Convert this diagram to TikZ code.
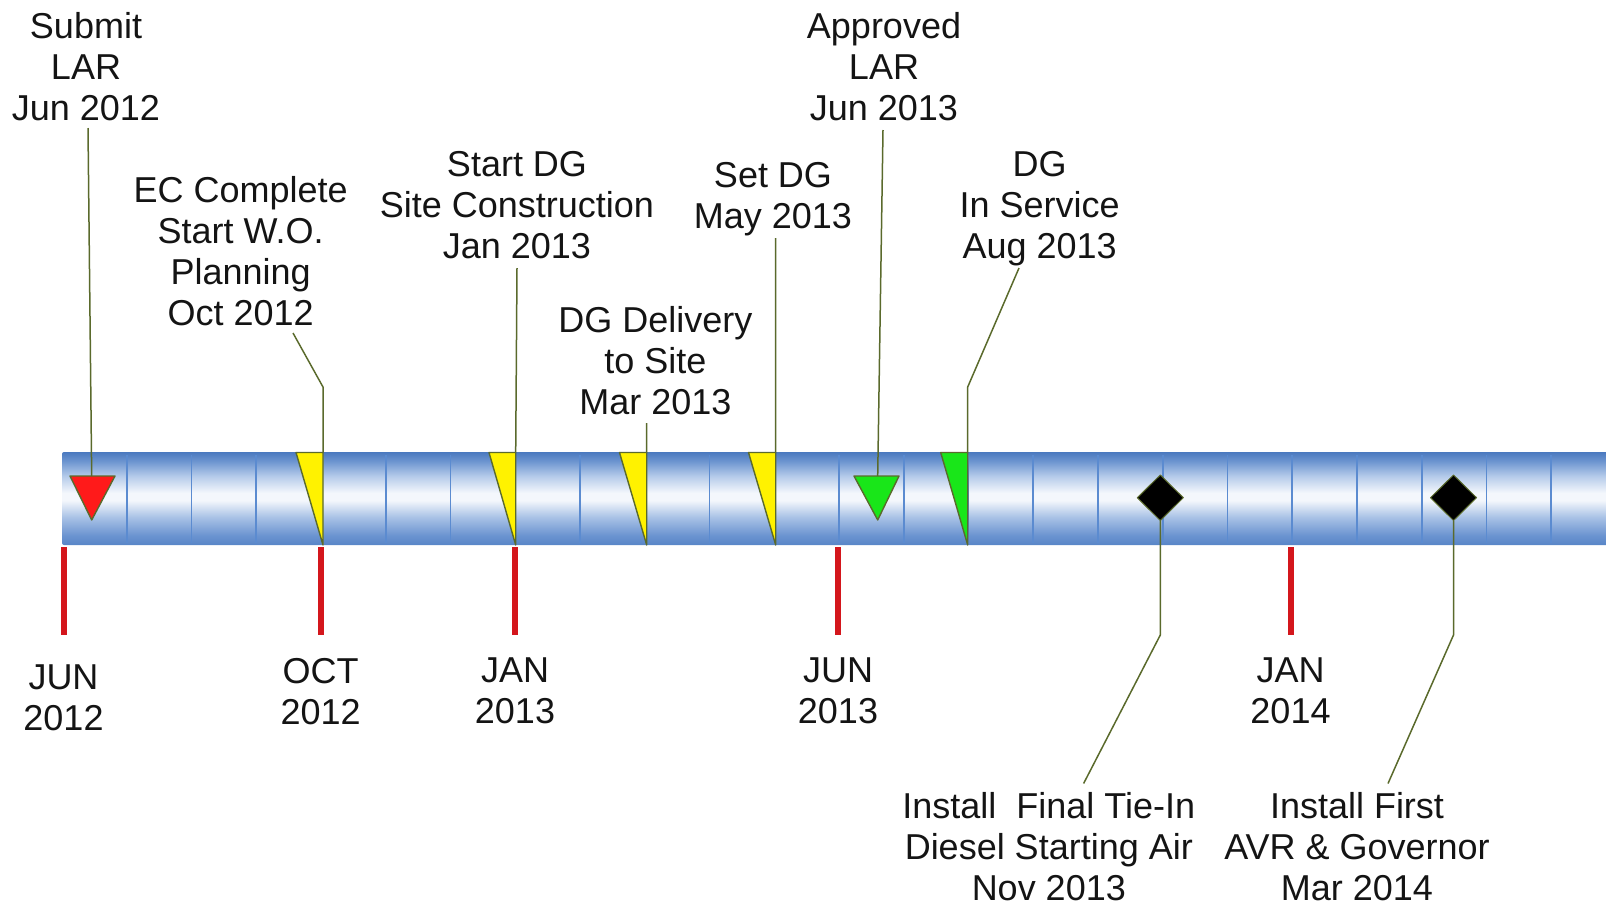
\documentclass[tikz,border=0pt]{standalone}
\usepackage{fontspec}
\setmainfont{Liberation Sans}
\definecolor{bartop}{HTML}{4A79BF}
\definecolor{bartopB}{HTML}{6D95D0}
\definecolor{barupper}{HTML}{B5CBEA}
\definecolor{barwhite}{HTML}{F4F7FC}
\definecolor{barlower}{HTML}{A9C2E6}
\definecolor{barbotB}{HTML}{6A93D0}
\definecolor{barbot}{HTML}{5885C7}
\definecolor{divider}{HTML}{5B8BD0}
\definecolor{tickred}{HTML}{D4161C}
\definecolor{olive}{HTML}{5A6A2C}
\definecolor{mkred}{HTML}{FF1A1A}
\definecolor{mkyellow}{HTML}{FFF200}
\definecolor{mkgreen}{HTML}{19E619}
\pgfdeclareverticalshading{barshade}{100bp}{%
  color(0bp)=(barbot); color(25bp)=(barbot); color(30bp)=(barbotB);
  color(40bp)=(barlower); color(49bp)=(barwhite); color(53bp)=(barwhite);
  color(62bp)=(barupper); color(70bp)=(bartopB); color(75bp)=(bartop);
  color(100bp)=(bartop)}
\tikzset{
  lbl/.style={align=center, inner sep=0pt, anchor=north,
    font=\fontsize{36}{41}\selectfont, text=black!92},
  conn/.style={draw=olive, line width=1.5pt},
  mkshape/.style={draw=olive, line width=1.4pt, line join=round},
  monthtick/.style={draw=tickred, line width=6pt},
  divline/.style={draw=divider, line width=1.8pt}
}
\begin{document}
\begin{tikzpicture}[x=1pt,y=-1pt]
\useasboundingbox (0,0) rectangle (1606,906);
% timeline bar
\path[shading=barshade, rounded corners=2pt] (62,452) rectangle (1640,545);
\foreach \k in {1,...,23}
  \draw[divline] ({62+\k*64.75},455) -- ({62+\k*64.75},543);
% month ticks below the bar
\foreach \x in {64,320.7,515,838,1291}
  \draw[monthtick] (\x,547) -- (\x,635);
% milestone markers
\draw[mkshape, fill=mkred] (70,476) -- (115,476) -- (91.7,520) -- cycle;
\draw[mkshape, fill=mkyellow] (296,452.5) -- (323,452.5) -- (323,545) -- cycle;
\draw[mkshape, fill=mkyellow] (489,452.5) -- (515.7,452.5) -- (515.7,545) -- cycle;
\draw[mkshape, fill=mkyellow] (619.5,452.5) -- (646.7,452.5) -- (646.7,545) -- cycle;
\draw[mkshape, fill=mkyellow] (748.5,452.5) -- (775.7,452.5) -- (775.7,545) -- cycle;
\draw[mkshape, fill=mkgreen] (854,476) -- (899,476) -- (877.7,520) -- cycle;
\draw[mkshape, fill=mkgreen] (940.7,452.5) -- (967.7,452.5) -- (967.7,545) -- cycle;
\draw[mkshape, fill=black, line width=1pt] (1160.3,475) -- (1183.3,497.7) -- (1160.3,520.5) -- (1137.3,497.7) -- cycle;
\draw[mkshape, fill=black, line width=1pt] (1453.5,475) -- (1476.5,497.7) -- (1453.5,520.5) -- (1430.5,497.7) -- cycle;
% marker anchor points
\coordinate (m1) at (91.7,476);
\coordinate (m2) at (323,452.5);
\coordinate (m3) at (515.7,452.5);
\coordinate (m4) at (646.7,452.5);
\coordinate (m5) at (775.7,452.5);
\coordinate (m6) at (877.7,476);
\coordinate (m7) at (967.7,452.5);
\coordinate (m8) at (1160.3,520.5);
\coordinate (m9) at (1453.5,520.5);
% milestone labels
\node[lbl] (t1) at (86,12.5) {Submit\\LAR\\Jun 2012};
\node[lbl] (t2) at (240.7,176.5) {EC Complete\\Start W.O.\\Planning\\Oct 2012};
\node[lbl] (t3) at (517,151) {Start DG\\Site Construction\\Jan 2013};
\node[lbl] (t4) at (655.5,306.5) {DG Delivery\\to Site\\Mar 2013};
\node[lbl] (t5) at (773,162) {Set DG\\May 2013};
\node[lbl] (t6) at (884,12.5) {Approved\\LAR\\Jun 2013};
\node[lbl] (t7) at (1039.6,151) {DG\\In Service\\Aug 2013};
\node[lbl] (t8) at (1048.8,792) {Install~~Final Tie-In\\Diesel Starting Air\\Nov 2013};
\node[lbl] (t9) at (1357,792) {Install First\\AVR \& Governor\\Mar 2014};
% month labels
\node[lbl] (d1) at (63.5,665) {JUN\\2012};
\node[lbl] (d2) at (320.6,658) {OCT\\2012};
\node[lbl] (d3) at (515,658) {JAN\\2013};
\node[lbl] (d4) at (838,658) {JUN\\2013};
\node[lbl] (d5) at (1290.5,658) {JAN\\2014};
% connector end points near the labels
\coordinate (s1) at (88,128);
\coordinate (s2) at (293,333);
\coordinate (b2) at (323,387);
\coordinate (s3) at (517,268);
\coordinate (s4) at (646.5,423);
\coordinate (s5) at (775.5,238);
\coordinate (s6) at (883,130);
\coordinate (s7) at (1019,268);
\coordinate (b7) at (967.7,387);
\coordinate (b8) at (1160.3,635);
\coordinate (s8) at (1083.6,783.5);
\coordinate (b9) at (1453.5,635);
\coordinate (s9) at (1388,783.5);
% connectors
\draw[conn] (s1) -- (m1);
\draw[conn] (s2) -- (b2) -- (m2);
\draw[conn] (s3) -- (m3);
\draw[conn] (s4) -- (m4);
\draw[conn] (s5) -- (m5);
\draw[conn] (s6) -- (m6);
\draw[conn] (s7) -- (b7) -- (m7);
\draw[conn] (m8) -- (b8) -- (s8);
\draw[conn] (m9) -- (b9) -- (s9);
\end{tikzpicture}
\end{document}
